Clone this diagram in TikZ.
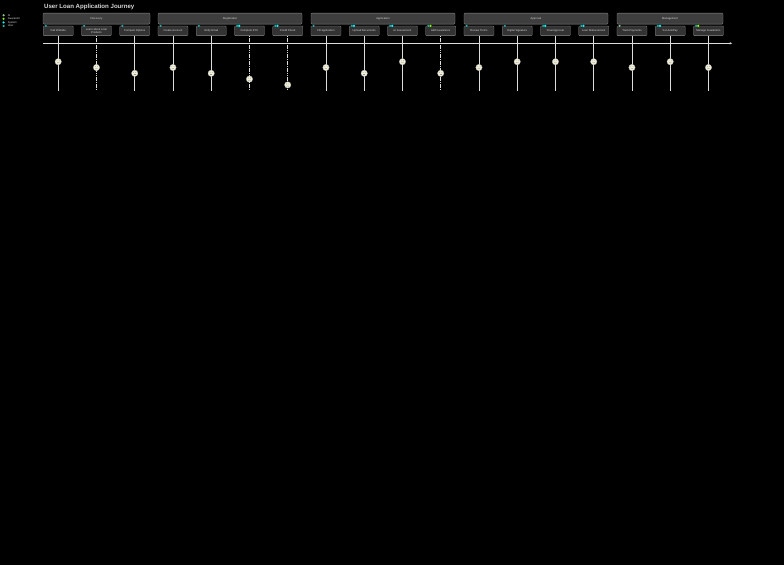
\documentclass[tikz,border=0pt]{standalone}
\usepackage{fontspec}
\setmainfont{Liberation Sans}
\usetikzlibrary{arrows.meta,calc}
\definecolor{secline}{HTML}{8A8A8A}
\definecolor{sectfill}{HTML}{3E3E3E}
\definecolor{taskfill}{HTML}{333333}
\definecolor{txt}{HTML}{D6D6D6}
\definecolor{lineclr}{HTML}{DCDCDC}
\definecolor{facefill}{HTML}{F2F0DA}
\definecolor{aAI}{HTML}{8FBC8F}
\definecolor{aGu}{HTML}{7CFC00}
\definecolor{aSy}{HTML}{00FFFF}
\definecolor{aUs}{HTML}{20B2AA}
\def\nonestr{none}
\tikzset{
  tiny/.style={font=\fontsize{2.7pt}{3.1pt}\selectfont, text=txt},
  sect/.style={tiny, draw=secline, fill=sectfill, rounded corners=1pt, line width=0.3pt, minimum height=11pt, inner sep=0pt},
  taskbox/.style={tiny, draw=secline, fill=taskfill, rounded corners=0.8pt, line width=0.3pt, minimum width=30pt, minimum height=9.6pt, inner sep=0pt, align=center},
  tsolid/.style={draw=lineclr, line width=0.6pt},
  tdash/.style={draw=lineclr, line width=0.6pt, dash pattern=on 1.6pt off 0.7pt},
  face/.style={circle, draw=gray!60, fill=facefill, line width=0.3pt, minimum size=6.4pt, inner sep=0pt},
  feat/.style={line width=0.3pt, draw=gray!80},
  actdot/.style={circle, minimum size=2.4pt, inner sep=0pt, draw=none},
  legtxt/.style={tiny, anchor=west, inner sep=0pt},
  axisln/.style={draw=lineclr, line width=0.65pt, -{Stealth[length=2.4pt,width=2.4pt]}}
}
\begin{document}
\begin{tikzpicture}[x=1pt,y=-1pt]
\fill[black] (0,0) rectangle (784,565);
\useasboundingbox (0,0) rectangle (784,565);
% title
\node[anchor=west, inner sep=0pt, text=txt, font=\fontsize{6.1pt}{6.5pt}\selectfont\bfseries] (title) at (44,7) {User Loan Application Journey};
% legend
\node[actdot, fill=aAI] (l1) at (3.6,15.2) {};
\node[legtxt] (lt1) at (7.6,15.2) {AI};
\node[actdot, fill=aGu] (l2) at (3.6,18.8) {};
\node[legtxt] (lt2) at (7.6,18.8) {Guarantor};
\node[actdot, fill=aSy] (l3) at (3.6,22.4) {};
\node[legtxt] (lt3) at (7.6,22.4) {System};
\node[actdot, fill=aUs] (l4) at (3.6,26) {};
\node[legtxt] (lt4) at (7.6,26) {User};
% sections
\node[sect, minimum width=107pt] (s1) at (96.5,18.6) {Discovery};
\node[sect, minimum width=144pt] (s2) at (230,18.6) {Registration};
\node[sect, minimum width=144pt] (s3) at (383,18.6) {Application};
\node[sect, minimum width=144pt] (s4) at (536,18.6) {Approval};
\node[sect, minimum width=106pt] (s5) at (670,18.6) {Management};
% axis
\coordinate (axL) at (43,43.3);
\coordinate (axR) at (732,43.3);
\draw[axisln] (axL) -- (axR);
% tasks
\foreach \lab/\s/\st [count=\k from 0] in {
  Visit Website/5/tsolid,
  {Learn about Loan\\Products}/4/tdash,
  Compare Options/3/tsolid,
  Create Account/4/tsolid,
  Verify Email/3/tsolid,
  Complete KYC/2/tdash,
  Credit Check/1/tdash,
  Fill application/4/tsolid,
  Upload Documents/3/tsolid,
  AI Assessment/5/tsolid,
  Add Guarantors/3/tdash,
  Review Terms/4/tsolid,
  Digital Signature/5/tsolid,
  Final Approval/5/tsolid,
  Loan Disbursement/5/tsolid,
  Track Payments/4/tsolid,
  Set AutoPay/5/tsolid,
  Manage Guarantors/4/tsolid}{
  \pgfmathsetmacro\xx{58.2+\k*38.25}
  \pgfmathsetmacro\yy{61.7+(5-\s)*5.8}
  \node[taskbox] (t\k) at (\xx,30.8) {\lab};
  \coordinate (e\k) at (\xx,90.5);
  \draw[\st] (t\k.south) -- (e\k);
  \node[face] (f\k) at (\xx,\yy) {};
  \fill[gray!80] ($(f\k.center)+(-1.1,-0.9)$) circle (0.4);
  \fill[gray!80] ($(f\k.center)+(1.1,-0.9)$) circle (0.4);
  \ifnum\s>3
    \draw[feat] ($(f\k.center)+(-1.2,0.6)$) .. controls ($(f\k.center)+(-0.5,1.6)$) and ($(f\k.center)+(0.5,1.6)$) .. ($(f\k.center)+(1.2,0.6)$);
  \else\ifnum\s=3
    \draw[feat] ($(f\k.center)+(-1.1,1.2)$) -- ($(f\k.center)+(1.1,1.2)$);
  \else
    \draw[feat] ($(f\k.center)+(-1.2,1.7)$) .. controls ($(f\k.center)+(-0.5,0.7)$) and ($(f\k.center)+(0.5,0.7)$) .. ($(f\k.center)+(1.2,1.7)$);
  \fi\fi
}
% actor markers
\foreach \k/\ca/\cb in {0/aUs/none,1/aUs/none,2/aUs/none,3/aUs/none,4/aUs/none,5/aUs/aSy,6/aUs/aSy,
  7/aUs/none,8/aUs/aSy,9/aUs/aSy,10/aUs/aGu,11/aUs/none,12/aUs/none,13/aUs/aSy,14/aUs/aSy,
  15/aAI/none,16/aUs/aSy,17/aUs/aGu}{
  \node[actdot, fill=\ca] (m\k a) at ($(t\k.north west)+(2.8,0)$) {};
  \ifx\cb\nonestr\else
    \node[actdot, fill=\cb] (m\k b) at ($(t\k.north west)+(4.9,0)$) {};
  \fi
}
\end{tikzpicture}
\end{document}
